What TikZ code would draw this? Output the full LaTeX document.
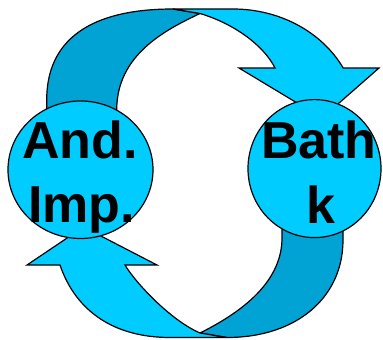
\documentclass[tikz,border=0pt]{standalone}
\usepackage{fontspec}
\setmainfont{Liberation Sans}
\usetikzlibrary{shapes.geometric}
\definecolor{bandfront}{RGB}{0,204,255}
\definecolor{bandback}{RGB}{0,163,212}
\tikzset{
  outline/.style={draw=black, line width=1.2pt, line join=miter},
  frontband/.style={outline, fill=bandfront},
  backband/.style={outline, fill=bandback},
  station/.style={ellipse, outline, fill=bandfront, inner sep=0pt, outer sep=0pt},
  lbl/.style={anchor=base, inner sep=0pt, font=\fontsize{52}{64}\selectfont\bfseries},
}
\begin{document}
\begin{tikzpicture}[x=1pt, y=-1pt]
\useasboundingbox (0,0) rectangle (383,340);

% upper curved arrow: rear half of the ribbon
\path[backband] (46.7,120) -- (46.7,100)
  .. controls (46.7,40) and (90,9) .. (173,9)
  -- (200,13.5)
  .. controls (165,30) and (116.7,55) .. (116.7,110)
  -- (116.7,120) -- cycle;
% upper curved arrow: front half with the head
\path[frontband] (173,9) -- (233,9)
  -- plot[domain=90:27.3, samples=50] ({233+124*cos(\x)},{118-109*sin(\x)})
  -- (379,68) -- (322,118) -- (239,68) -- (275,68)
  .. controls (264,46) and (235,24) .. (200,13.5)
  -- cycle;

% lower curved arrow: rear half of the ribbon
\path[backband] (343,222) -- (343,240)
  .. controls (343,298) and (296,337.5) .. (227,337.5)
  -- (200,333)
  .. controls (236,315) and (282,285) .. (282,238)
  -- (282,222) -- cycle;
% lower curved arrow: front half with the head
\path[frontband] (60,265)
  .. controls (76,312) and (115,337.5) .. (170,337.5)
  -- (227,337.5) -- (200,333)
  .. controls (170,320) and (135,282) .. (125,265)
  -- (157,265) -- (83.5,227) -- (27,265) -- cycle;

% the two stations
\node[station, minimum width=145pt, minimum height=137.5pt] (imp) at (80.5,169.75) {};
\node[station, minimum width=133pt, minimum height=138pt] (bath) at (314.5,168.6) {};

\node[lbl] (imp-a) at (80,158) {And.};
\node[lbl] (imp-b) at (81.5,222) {Imp.};
\node[lbl] (bath-a) at (319,158) {Bath};
\node[lbl] (bath-b) at (320.5,223) {k};
\end{tikzpicture}
\end{document}
